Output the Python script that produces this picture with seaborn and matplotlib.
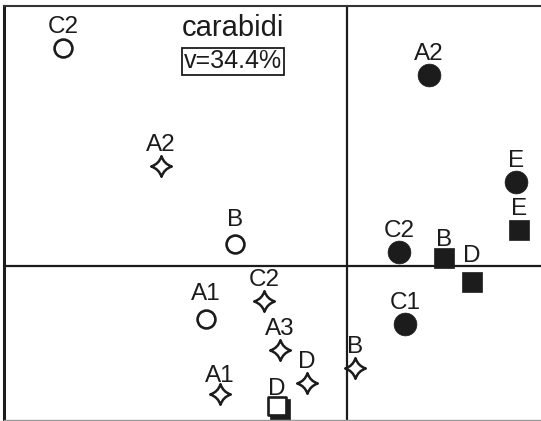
import numpy as np, pandas as pd
from matplotlib import pyplot as plt
from matplotlib.path import Path
import seaborn as sns

# === DATA (ordination scores, axis 1 / axis 2)
open_circle_labels = ["C2", "B", "A1"]
open_circle_x = [-2.84, -1.12, -1.41]
open_circle_y = [2.18, 0.22, -0.53]

star_labels = ["A2", "C2", "A3", "D", "A1", "B"]
star_x = [-1.86, -0.83, -0.67, -0.40, -1.27, 0.08]
star_y = [1.00, -0.35, -0.84, -1.17, -1.28, -1.02]

open_square_labels = ["D"]
open_square_x = [-0.70]
open_square_y = [-1.40]

filled_circle_labels = ["A2", "E", "C2", "C1"]
filled_circle_x = [0.82, 1.69, 0.52, 0.58]
filled_circle_y = [1.91, 0.84, 0.14, -0.58]

filled_square_labels = ["", "E", "B", "D"]
filled_square_x = [-0.67, 1.72, 0.97, 1.25]
filled_square_y = [-1.43, 0.36, 0.08, -0.16]

title = "carabidi"
variance = "v=34.4%"

frames = []
for group, labels, xs, ys in [
    ("filled_square", filled_square_labels, filled_square_x, filled_square_y),
    ("open_square", open_square_labels, open_square_x, open_square_y),
    ("open_circle", open_circle_labels, open_circle_x, open_circle_y),
    ("star", star_labels, star_x, star_y),
    ("filled_circle", filled_circle_labels, filled_circle_x, filled_circle_y),
]:
    frames.append(pd.DataFrame({"axis1": xs, "axis2": ys, "label": labels, "group": group}))
df = pd.concat(frames, ignore_index=True)

# 4-pointed star with concave sides
a = 0.24
star_path = Path(
    [(0, 1), (a, a), (1, 0), (a, -a), (0, -1), (-a, -a), (-1, 0), (-a, a), (0, 1), (0, 1)],
    [Path.MOVETO, Path.CURVE3, Path.LINETO, Path.CURVE3, Path.LINETO,
     Path.CURVE3, Path.LINETO, Path.CURVE3, Path.LINETO, Path.CLOSEPOLY],
)

ink = "#1c1c1c"
styles = {
    "filled_square": dict(marker="s", s=220, facecolor=ink, edgecolor=ink, linewidth=0.5),
    "open_square": dict(marker="s", s=170, facecolor="white", edgecolor=ink, linewidth=1.9),
    "open_circle": dict(marker="o", s=165, facecolor="white", edgecolor=ink, linewidth=1.9),
    "star": dict(marker=star_path, s=220, facecolor="white", edgecolor=ink, linewidth=1.8),
    "filled_circle": dict(marker="o", s=270, facecolor=ink, edgecolor=ink, linewidth=0.5),
}

# label offsets in points (above marker)
label_nudge = {
    ("filled_square", "D"): 19,
    ("filled_square", "B"): 13,
    ("open_square", "D"): 12,
    ("open_circle", "A1"): 18,
    ("open_circle", "B"): 17,
    ("star", "A1"): 13,
}

sns.set_style("white")
plt.rcParams["font.family"] = ["Liberation Sans", "DejaVu Sans"]

fig = plt.figure(figsize=(5.41, 4.21), dpi=100)
ax = fig.add_axes([4 / 541, 1 / 421, 1 - 4 / 541, 414 / 421])

for group, style in styles.items():
    sub = df[df["group"] == group]
    sns.scatterplot(data=sub, x="axis1", y="axis2", ax=ax, legend=False, zorder=3, **style)
    for _, row in sub.iterrows():
        if row["label"] == "":
            continue
        off = label_nudge.get((group, row["label"]), 15)
        ax.annotate(row["label"], (row["axis1"], row["axis2"]), xytext=(0, off),
                    textcoords="offset points", ha="center", va="center",
                    fontsize=17.5, color=ink, zorder=4)

# zero lines
ax.axhline(0, color=ink, lw=1.6, zorder=1)
ax.axvline(0, color=ink, lw=1.6, zorder=1)

ax.text(-1.14, 2.38, title, ha="center", va="center", fontsize=21, color=ink)
ax.text(-1.14, 2.05, variance, ha="center", va="center", fontsize=18, color=ink,
        bbox=dict(boxstyle="square,pad=0.06", facecolor="white", edgecolor=ink, lw=1.3))

ax.set_xlim(-3.43, 1.94)
ax.set_ylim(-1.54, 2.60)
ax.set_xticks([])
ax.set_yticks([])
ax.set_xlabel("")
ax.set_ylabel("")
ax.spines["right"].set_visible(False)
ax.spines["left"].set_linewidth(2.2)
ax.spines["left"].set_color(ink)
ax.spines["top"].set_linewidth(1.5)
ax.spines["top"].set_color("#333333")
ax.spines["bottom"].set_linewidth(1.0)
ax.spines["bottom"].set_color("#999999")

plt.savefig("out.png", dpi=100)
